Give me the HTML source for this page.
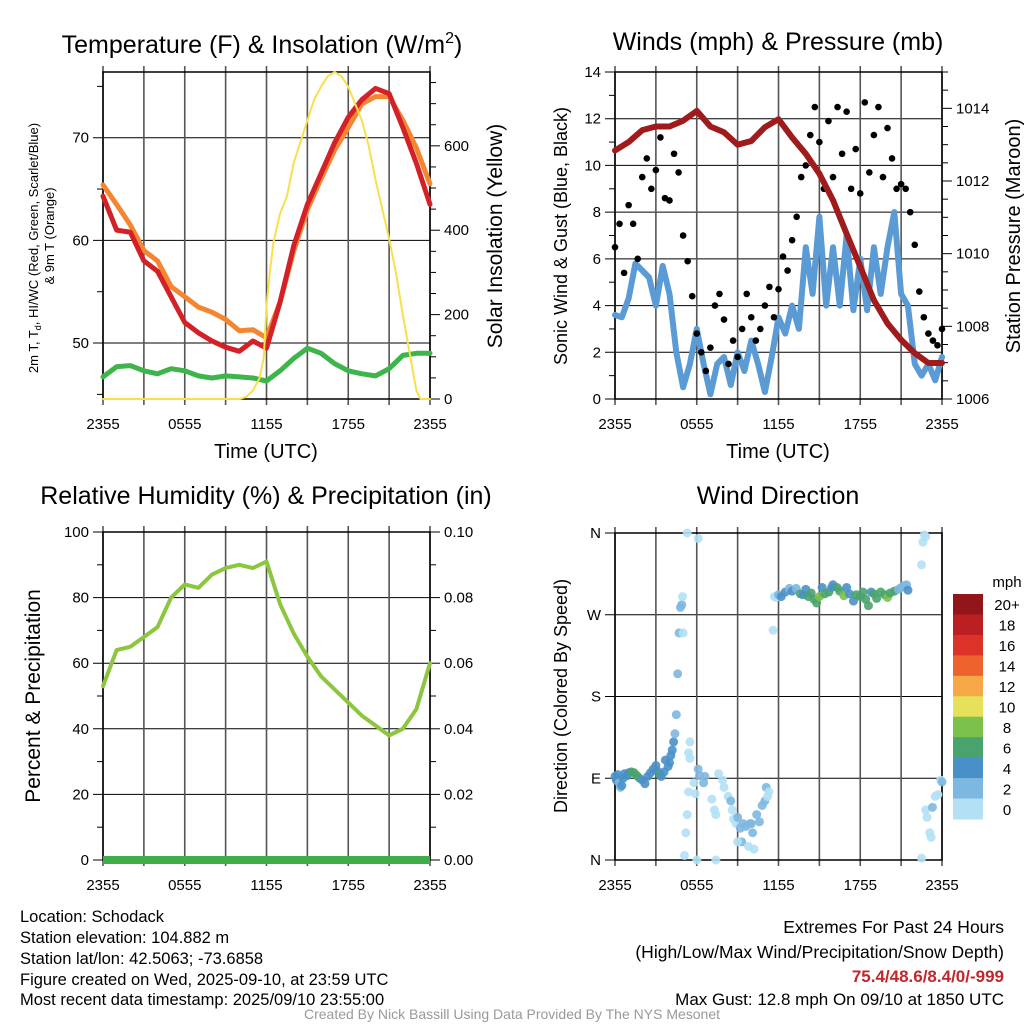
<!DOCTYPE html>
<html><head><meta charset="utf-8">
<style>
html,body{margin:0;padding:0;background:#fff;}
svg{display:block;font-family:"Liberation Sans",sans-serif;}
.ft{font-family:"Liberation Sans Narrow","Liberation Sans",sans-serif;font-size:16.5px;}
</style></head>
<body>
<svg id="svg" width="1024" height="1024" viewBox="0 0 1024 1024" xmlns="http://www.w3.org/2000/svg">
<g id="layer"></g>
<text class="ft" x="20" y="922">Location: Schodack</text>
<text class="ft" x="20" y="943">Station elevation: 104.882 m</text>
<text class="ft" x="20" y="964">Station lat/lon: 42.5063; -73.6858</text>
<text class="ft" x="20" y="985">Figure created on Wed, 2025-09-10, at 23:59 UTC</text>
<text class="ft" x="20" y="1005">Most recent data timestamp: 2025/09/10 23:55:00</text>
<text class="ft" x="1004" y="933" text-anchor="end" style="font-size:17.5px">Extremes For Past 24 Hours</text>
<text class="ft" x="1004" y="958" text-anchor="end" style="font-size:17.5px">(High/Low/Max Wind/Precipitation/Snow Depth)</text>
<text class="ft" x="1004" y="982" text-anchor="end" fill="#c0272d" font-weight="bold" style="font-size:17px">75.4/48.6/8.4/0/-999</text>
<text class="ft" x="1004" y="1005" text-anchor="end" style="font-size:17px">Max Gust: 12.8 mph On 09/10 at 1850 UTC</text>
<text x="512" y="1019" text-anchor="middle" fill="#999" style="font-family:'Liberation Sans Narrow','Liberation Sans',sans-serif;font-size:14px">Created By Nick Bassill Using Data Provided By The NYS Mesonet</text>
</svg>
<script>
const hours = [0,1,2,3,4,5,6,7,8,9,10,11,12,13,14,15,16,17,18,19,20,21,22,23,24];
const tempRed = [64.3,61,60.8,58,57,54.5,52,51,50.2,49.6,49.2,50.2,49.5,54,59.5,63.5,66.5,69.5,72,73.7,74.8,74.3,71,67.5,63.5];
const tempOrange = [65.4,63.5,61.5,59,58,55.5,54.5,53.5,53,52.3,51.2,51.3,50.5,54,59,63,66,68.8,71,73.3,74,74,71.7,69,65.5];
const dewGreen = [46.7,47.7,47.8,47.3,47,47.5,47.3,46.8,46.6,46.8,46.7,46.6,46.3,47.3,48.5,49.5,49,48,47.3,47,46.8,47.5,48.8,49,49];
const solarHours = [0,10,10.5,11,11.5,11.8,12,12.25,12.5,13,13.5,14,14.5,15,15.5,16,16.5,17,17.5,18,18.5,19,19.5,20,20.5,21,21.5,22,22.5,23,23.3,24];
const solarVals = [0,0,5,20,50,100,220,300,370,440,480,560,610,660,710,740,765,775,765,740,700,660,600,520,450,380,300,200,110,20,0,0];
const pressVals = [1012.84,1013.07,1013.4,1013.5,1013.5,1013.66,1013.93,1013.5,1013.34,1013.0,1013.1,1013.48,1013.7,1013.2,1012.75,1012.2,1011.47,1010.55,1009.64,1008.72,1008.08,1007.63,1007.26,1006.99,1006.99];
const windHours = [0,.5,1,1.5,2,2.5,3,3.5,4,4.5,5,5.5,6,6.5,7,7.5,8,8.5,9,9.5,10,10.5,11,11.5,12,12.5,13,13.5,14,14.5,15,15.5,16,16.5,17,17.5,18,18.5,19,19.5,20,20.5,21,21.5,22,22.5,23,23.5,24];
const windVals = [3.6,3.5,4.3,5.8,5.5,5.2,4.0,5.7,4.5,2.0,0.5,1.5,3.0,1.5,0.2,1.5,1.8,0.6,2.0,1.2,2.5,1.5,0.3,1.8,3.5,2.8,4.0,3.0,6.5,4.5,7.8,4.0,6.5,4.0,7.0,3.8,6.0,3.8,6.5,4.5,6.5,8.0,4.5,4.0,1.5,1.0,1.5,0.8,1.8];
const gustVals = [6.5,7.5,5.4,8.3,7.5,6.0,9.5,10.3,9.0,9.8,11.2,8.6,8.5,10.5,9.7,7.0,5.9,4.4,2.8,2.0,1.2,2.2,4.0,4.5,3.4,1.5,2.5,1.8,3.0,4.5,3.5,2.5,3.0,4.0,4.8,3.5,4.7,6.1,5.5,6.8,7.8,9.5,10.0,11.3,12.5,11.0,9.0,11.9,9.5,12.5,10.5,12.3,9.0,10.7,8.8,12.7,9.7,11.3,12.5,9.5,11.6,10.3,9.0,9.2,9.0,8.0,6.6,4.6,3.5,2.8,2.5,2.3,3.0];
const rhVals = [53,64,65,68,71,80,84,83,87,89,90,89,91,78,69,62,56,52,48,44,41,38,40,46,60];
const precipVals = [0,0,0,0,0,0,0,0,0,0,0,0,0,0,0,0,0,0,0,0,0,0,0,0,0];
const dirHours = [0,0.1,0.2,0.3,0.4,0.5,0.6,0.7,0.9,1.0,1.2,1.4,1.6,1.8,2.0,2.2,2.4,2.6,2.8,3.0,3.1,3.3,3.4,3.6,3.7,3.9,4.0,4.1,4.2,4.3,4.4,4.5,4.6,4.7,4.8,4.9,4.95,5.0,5.1,5.3,5.2,5.3,5.4,5.5,5.4,5.5,5.8,5.9,6.1,6.2,6.5,6.6,6.0,6.1,7.1,7.3,7.4,7.4,7.6,7.9,8.0,8.3,8.5,8.6,8.7,8.9,9.0,9.2,9.3,9.4,9.6,9.9,10.1,10.2,10.0,10.4,10.6,10.8,11.0,11.1,11.2,11.3,9.0,9.8,11.6,11.7,11.8,12.0,12.2,12.5,12.8,13.0,13.3,13.6,13.8,14.0,14.2,14.4,14.6,14.8,15.0,15.2,15.4,15.7,15.9,16.0,16.3,16.5,16.8,17.0,17.2,17.5,17.7,18.0,18.2,18.4,18.6,18.8,19.0,19.2,19.5,19.8,20.0,20.2,20.5,20.8,21.0,21.2,21.4,21.5,22.5,22.6,22.7,22.8,22.5,22.8,22.9,23.1,23.2,23.3,23.5,23.7,23.9,24.0];
const dirDegs = [92,88,94,85,80,82,90,95,93,96,97,96,93,90,88,84,92,96,100,104,98,95,92,97,110,103,107,115,121,130,139,160,205,250,278,281,290,250,5,360,30,50,75,130,118,112,85,73,100,93,85,92,0,354,67,55,50,0,95,88,80,70,65,55,45,40,47,35,20,40,37,40,30,12,40,50,42,60,65,80,70,75,20,15,253,290,289,292,290,295,299,296,299,293,292,298,290,294,287,283,290,300,293,295,300,303,300,296,291,300,293,285,292,290,295,287,280,295,293,288,295,292,289,294,296,298,300,302,303,297,325,350,358,356,2,55,47,30,25,58,70,72,88,86];
const dirSpeeds = [4,4,4,3,3,4,4,4,4,4,6,6,6,6,4,4,4,4,4,4,4,6,4,4,4,4,4,4,4,4,3,3,3,3,3,3,1,1,1,0,0,0,0,1,0,0,1,0,3,3,3,2,0,0,0,0,0,0,0,0,1,1,2,0,0,0,3,3,3,2,2,2,3,1,2,2,2,2,2,3,1,1,0,0,0,1,1,3,4,4,2,4,2,6,4,4,6,6,6,6,8,4,6,6,4,4,6,6,8,4,4,4,6,6,6,6,6,4,6,6,6,6,8,6,6,3,2,2,2,4,1,0,0,0,0,0,0,0,0,2,1,0,1,2];
const cbLabels = ["20+","18","16","14","12","10","8","6","4","2","0"];
const cbColors = ["#921519","#bb1e23","#dc3228","#ee622e","#f5a845","#e6e05a","#7cc14a","#4aa36e","#4a90c8","#7db8e0","#b3e0f5"];
const timeLabels = ["2355","0555","1155","1755","2355"];

const NS="http://www.w3.org/2000/svg";
const layer=document.getElementById('layer');
function mk(tag,attrs,parent){const e=document.createElementNS(NS,tag);for(const k in attrs)e.setAttribute(k,attrs[k]);(parent||layer).appendChild(e);return e;}
function txt(s,attrs,parent){const e=mk('text',attrs,parent);e.textContent=s;return e;}

const L=103,R=430,L2=615,R2=942;
function xs(x0,x1){return h=>x0+(x1-x0)*h/24;}
function ys(y0,y1,v0,v1){return v=>y0+(y1-y0)*(v-v0)/(v1-v0);}

function frame(g,x0,x1,y0,y1,name){
  for(let i=0;i<=8;i++){const x=x0+(x1-x0)*i/8;
    const l=mk('line',{x1:x,x2:x,y1:y0-6,y2:y1+6,stroke:'#555','stroke-width':1.6},g);
    
    }
  for(let i=0;i<5;i++){const x=x0+(x1-x0)*i/4;
    const t=txt(timeLabels[i],{x:x,y:y1+30,'text-anchor':'middle','font-size':15},g);
    
    }
  const r=mk('rect',{x:x0,y:y0,width:x1-x0,height:y1-y0,fill:'none',stroke:'#000','stroke-width':1.5},g);
  
  
}
function hgrid(g,x0,x1,y,label){
  mk('line',{x1:x0-10,x2:x1,y1:y,y2:y,stroke:'#000','stroke-width':1},g);
  if(label!==null){const t=txt(label,{x:x0-14,y:y+5,'text-anchor':'end','font-size':15},g);
    
    }
}
function rtick(g,x1,y,label,minor){
  mk('line',{x1:x1,x2:x1+(minor?6:10),y1:y,y2:y,stroke:'#000','stroke-width':1},g);
  if(label!==null){const t=txt(label,{x:x1+14,y:y+5,'font-size':15},g);
    
    }
}
function poly(g,X,Y,hs,vs,attrs,name){
  const pts=hs.map((h,i)=>X(h).toFixed(1)+','+Y(vs[i]).toFixed(1)).join(' ');
  const p=mk('polyline',Object.assign({points:pts,fill:'none','stroke-linejoin':'round','stroke-linecap':'round'},attrs),g);
  
  
  return p;
}
function title(s,x,y,name){const t=txt(s,{x:x,y:y,'text-anchor':'middle','font-size':25});
  
  return t;}
function vlabel(s,x,y,size,name,g){const t=txt(s,{x:0,y:0,'text-anchor':'middle','font-size':size,transform:`translate(${x},${y}) rotate(-90)`},g);
  
  return t;}

// ---------- Panel 1: temperature ----------
{const g=mk('g',{});
 const X=xs(L,R),Y=ys(399,72,44.55,76.4),Ys=ys(399,72,0,775);
 [50,60,70].forEach(v=>hgrid(g,L,R,Y(v),String(v)));
 [45,55,65,75].forEach(v=>mk('line',{x1:L-6,x2:L,y1:Y(v),y2:Y(v),stroke:'#000'},g));
 for(let v=0;v<=750;v+=50)rtick(g,R,Ys(v),v%200===0?String(v):null,v%200!==0);
 frame(g,L,R,72,399,'temperature');
 poly(g,X,Y,hours,dewGreen,{stroke:'#3db54a','stroke-width':5},'dewpoint-line');
 poly(g,X,Y,hours,tempOrange,{stroke:'#f48531','stroke-width':5},'temp-9m-line');
 poly(g,X,Y,hours,tempRed,{stroke:'#d42027','stroke-width':5},'temp-2m-line');
 poly(g,X,Ys,solarHours,solarVals,{stroke:'#f9e04b','stroke-width':2},'solar-line');
 const tt=txt('Time (UTC)',{x:266,y:458,'text-anchor':'middle','font-size':20},g);
 
 
 vlabel('2m T, T',38,248,13,'temp-y-title',g).innerHTML='2m T, T<tspan font-size="9" dy="3">d</tspan><tspan dy="-3">, HI/WC (Red, Green, Scarlet/Blue)</tspan>';
 vlabel('& 9m T (Orange)',54,236,13,'temp-y-title-2',g);
 vlabel('Solar Insolation (Yellow)',502,236,21,'solar-y-title',g);
}
{const t=title('Temperature (F) & Insolation (W/m',262,53,'temperature-title');
 const s=document.createElementNS(NS,'tspan');s.setAttribute('dy','-10');s.setAttribute('font-size','16');s.textContent='2';t.appendChild(s);
 const s2=document.createElementNS(NS,'tspan');s2.setAttribute('dy','10');s2.textContent=')';t.appendChild(s2);}

// ---------- Panel 2: winds ----------
{const g=mk('g',{});
 const X=xs(L2,R2),Y=ys(399,72,0,14),Yp=ys(399,72,1006,1015);
 for(let v=0;v<=14;v+=2)hgrid(g,L2,R2,Y(v),String(v));
 for(let v=1;v<=13;v+=2)mk('line',{x1:L2-6,x2:L2,y1:Y(v),y2:Y(v),stroke:'#000'},g);
 for(let v=1006;v<=1015;v+=0.5)rtick(g,R2,Yp(v),(v%2===0)?String(v):null,v%2!==0);
 frame(g,L2,R2,72,399,'winds');
 poly(g,X,Y,windHours,windVals,{stroke:'#5b9bd5','stroke-width':6},'sustained-wind-line');
 gustVals.forEach((v,i)=>{const h=i*24/(gustVals.length-1);
   const c=mk('circle',{cx:X(h),cy:Y(v),r:3.3,fill:'#000'},g);
   
   });
 poly(g,X,Yp,hours,pressVals,{stroke:'#a01c1c','stroke-width':6},'pressure-line');
 const tt=txt('Time (UTC)',{x:778,y:458,'text-anchor':'middle','font-size':20},g);
 
 
 vlabel('Sonic Wind & Gust (Blue, Black)',567,236,18,'wind-y-title',g);
 vlabel('Station Pressure (Maroon)',1020,236,20,'pressure-y-title',g);
}
title('Winds (mph) & Pressure (mb)',778,50,'winds-title');

// ---------- Panel 3: RH ----------
{const g=mk('g',{});
 const X=xs(L,R),Y=ys(860,532,0,100),Yp=ys(860,532,0,0.10);
 for(let v=0;v<=100;v+=20)hgrid(g,L,R,Y(v),String(v));
 for(let v=10;v<=90;v+=20)mk('line',{x1:L-6,x2:L,y1:Y(v),y2:Y(v),stroke:'#000'},g);
 for(let v=0;v<=10;v++)rtick(g,R,Yp(v/100),v%2===0?(v/100).toFixed(2):null,v%2!==0);
 frame(g,L,R,532,860,'rh');
 poly(g,X,Y,hours,rhVals,{stroke:'#8cc63f','stroke-width':4},'rh-line');
 poly(g,X,Yp,hours,precipVals,{stroke:'#3fae49','stroke-width':8,'stroke-linecap':'butt'},'precip-line');
 vlabel('Percent & Precipitation',40,696,21,'rh-y-title',g);
}
title('Relative Humidity (%) & Precipitation (in)',266,504,'rh-title');

// ---------- Panel 4: wind direction ----------
{const g=mk('g',{});
 const X=xs(L2,R2),Y=ys(860,533,0,360);
 const dl=['N','E','S','W','N'];
 for(let i=0;i<5;i++)hgrid(g,L2,R2,Y(i*90),dl[i]);
 frame(g,L2,R2,533,860,'direction');
 dirHours.forEach((h,i)=>{const b=Math.min(10,Math.floor(dirSpeeds[i]/2));
   const c=mk('circle',{cx:X(h),cy:Y(dirDegs[i]),r:4.5,fill:cbColors[10-b],'fill-opacity':0.9},g);
   
   });
 vlabel('Direction (Colored By Speed)',567,696,18,'direction-y-title',g);
 const cb=mk('g',{},g);
 const h=225/11;
 cbColors.forEach((c,i)=>{const r=mk('rect',{x:953,y:594+i*h,width:30,height:h+0.5,fill:c},cb);
   
   
   const t=txt(cbLabels[i],{x:1007,y:594+i*h+h/2+6,'text-anchor':'middle','font-size':15},cb);
   
   });
 txt('mph',{x:1007,y:587,'text-anchor':'middle','font-size':15},cb);
}
title('Wind Direction',778,504,'direction-title');
</script>
</body></html>
